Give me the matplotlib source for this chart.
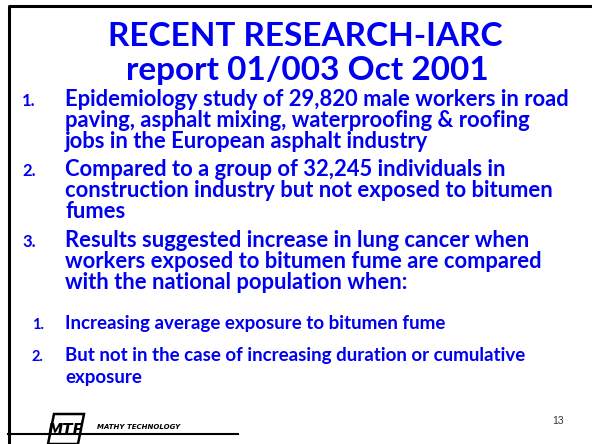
import matplotlib.pyplot as plt
from matplotlib.patches import Polygon

# slide text
title_lines = ["RECENT RESEARCH-IARC", "report 01/003 Oct 2001"]
item_nums = ["1.", "2.", "3."]
items = [
    ["Epidemiology study of 29,820 male workers in road",
     "paving, asphalt mixing, waterproofing & roofing",
     "jobs in the European asphalt industry"],
    ["Compared to a group of 32,245 individuals in",
     "construction industry but not exposed to bitumen",
     "fumes"],
    ["Results suggested increase in lung cancer when",
     "workers exposed to bitumen fume are compared",
     "with the national population when:"],
]
sub_nums = ["1.", "2."]
sub_items = [
    ["Increasing average exposure to bitumen fume"],
    ["But not in the case of increasing duration or cumulative",
     "exposure"],
]
page_no = "13"
logo_text = "MTE"
company = "MATHY TECHNOLOGY"

blue = "#0000f0"
font = "Lato"

fig = plt.figure(figsize=(5.92, 4.44), dpi=100)
ax = fig.add_axes([0, 0, 1, 1])
ax.set_xlim(0, 592)
ax.set_ylim(444, 0)
ax.axis("off")

# frame
ax.plot([9, 9, 592], [444, 6, 6], color="black", lw=2.2, solid_capstyle="butt")
ax.plot([8, 238], [434, 434], color="black", lw=1.5)

# title
ax.text(305, 46, title_lines[0], ha="center", va="baseline", color=blue,
        fontsize=24, fontweight="bold", family=font)
ax.text(307, 80, title_lines[1], ha="center", va="baseline", color=blue,
        fontsize=24, fontweight="bold", family=font)

# numbered items
line_h = 21
starts = [106, 176, 247]
for num, lines, y0 in zip(item_nums, items, starts):
    ax.text(22, y0, num, ha="left", va="baseline", color=blue,
            fontsize=12, fontweight="bold", family=font)
    for k, s in enumerate(lines):
        ax.text(65, y0 + k * line_h, s, ha="left", va="baseline", color=blue,
                fontsize=15.8, fontweight="bold", family=font)

sub_starts = [329, 361]
for num, lines, y0 in zip(sub_nums, sub_items, sub_starts):
    ax.text(32, y0, num, ha="left", va="baseline", color=blue,
            fontsize=10.5, fontweight="bold", family=font)
    for k, s in enumerate(lines):
        ax.text(65, y0 + k * 22, s, ha="left", va="baseline", color=blue,
                fontsize=13.5, fontweight="bold", family=font)

# page number
ax.text(558, 421, page_no, ha="center", va="center", color="#333333",
        fontsize=7.5, family="Liberation Sans")

# logo
ax.add_patch(Polygon([[48, 444], [54, 414], [84, 414], [78, 444]],
                     closed=True, fill=False, edgecolor="black", lw=1.8))
ax.text(66, 430, logo_text, ha="center", va="center", color="black",
        fontsize=11, fontweight="black", style="italic", family="DejaVu Sans")
ax.text(97, 427, company, ha="left", va="center", color="black",
        fontsize=5, fontweight="bold", style="italic", family="DejaVu Sans")

fig.savefig("out.png", dpi=100)
